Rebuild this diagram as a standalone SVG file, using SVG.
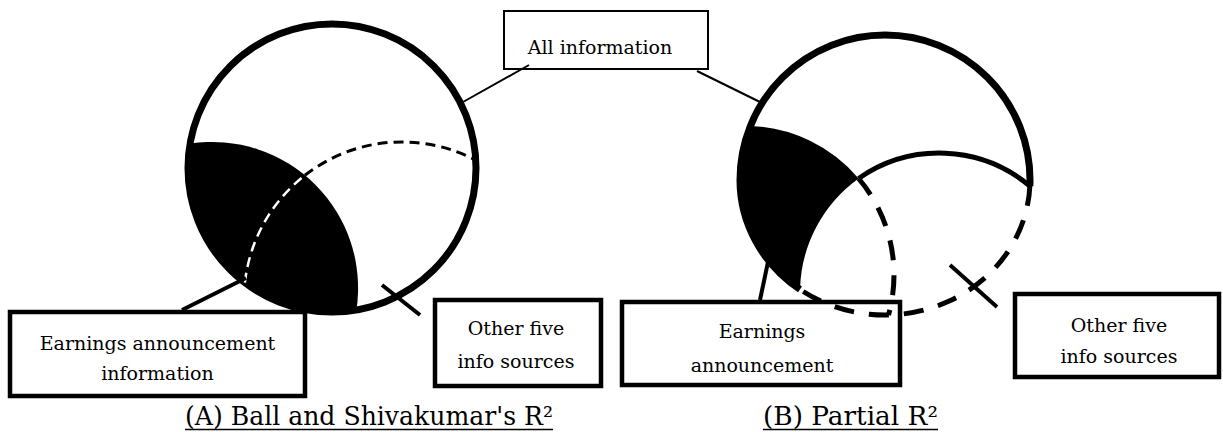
<svg xmlns="http://www.w3.org/2000/svg" width="1223" height="432" viewBox="0 0 1223 432">
<style>
  .lbl{font-family:"DejaVu Serif","Liberation Serif",serif;font-size:19px;fill:#000;text-anchor:middle}
  .title{font-family:"DejaVu Serif","Liberation Serif",serif;font-size:25.5px;fill:#000}
  .box{fill:#fff;stroke:#000;stroke-width:4.5}
  .thinbox{fill:#fff;stroke:#000;stroke-width:2}
  .lead{stroke:#000;stroke-width:2;fill:none}
  .leadThick{stroke:#000;stroke-width:4;fill:none}
  .ring{fill:none;stroke:#000;stroke-width:7}
  .fillblk{fill:#000;stroke:none}
  .dashA{fill:none;stroke:#000;stroke-width:3;stroke-dasharray:10 6}
  .dashAw{fill:none;stroke:#fff;stroke-width:2.5;stroke-dasharray:10 6}
  .dashB{fill:none;stroke:#000;stroke-width:5;stroke-dasharray:20 15}
  .arcB{fill:none;stroke:#000;stroke-width:5}
  .uline{stroke:#000;stroke-width:1.5}
</style>
<rect x="0" y="0" width="1223" height="432" fill="#fff"/>

<g id="node-all-info">
  <rect class="thinbox" x="504" y="11" width="204" height="58"/>
  <text class="lbl" x="600" y="54">All information</text>
</g>
<g id="node-earnings-A">
  <rect class="box" x="10" y="312" width="295" height="84"/>
  <text class="lbl" x="157.5" y="350">Earnings announcement</text>
  <text class="lbl" x="157.5" y="380">information</text>
</g>
<g id="node-other-A">
  <rect class="box" x="435" y="300" width="166" height="86"/>
  <text class="lbl" x="516" y="335">Other five</text>
  <text class="lbl" x="516" y="368">info sources</text>
</g>
<g id="node-earnings-B">
  <rect class="box" x="622" y="302" width="278" height="83"/>
  <text class="lbl" x="762" y="338">Earnings</text>
  <text class="lbl" x="762" y="372">announcement</text>
</g>
<g id="node-other-B">
  <rect class="box" x="1015" y="294" width="204" height="83"/>
  <text class="lbl" x="1119" y="332">Other five</text>
  <text class="lbl" x="1119" y="363">info sources</text>
</g>

<g id="venn-A">
  <path class="fillblk" d="M190 143.6 A146 146 0 0 1 356.4 310 A144 144 0 0 1 190 143.6 Z"/>
  <circle class="ring" cx="332" cy="168" r="144"/>
  <path class="dashA" d="M304.9 175.3 A158 158 0 0 1 475.9 160.3"/>
  <path class="dashAw" d="M244.9 282.7 A158 158 0 0 1 304.9 175.3"/>
  <line class="leadThick" x1="382" y1="285" x2="420" y2="315"/>
</g>

<g id="venn-B">
  <path class="fillblk" d="M750.4 126 A149 149 0 0 1 858.6 178.5 A141 141 0 0 0 800 289.4 A145 135 0 0 1 740 180 A145 145 0 0 1 750.4 126 Z"/>
  <path class="ring" d="M800 289.4 A145 135 0 0 1 740 180 A145 145 0 0 1 885 35 A145 145 0 0 1 1030 180 A145 135 0 0 1 1029.86 186"/>
  <path class="arcB" d="M858.6 178.5 A141 141 0 0 1 1029.86 186"/>
  <path class="dashB" d="M1029.86 186 A145 135 0 0 1 800 289.4"/>
  <path class="dashB" d="M858.6 178.5 A149 149 0 0 1 888.5 315"/>
  <line class="leadThick" x1="950" y1="265" x2="997" y2="307"/>
</g>

<g id="connectors">
  <line class="lead" x1="529" y1="65" x2="463" y2="102"/>
  <line class="lead" x1="697" y1="71" x2="762" y2="103"/>
  <line class="leadThick" x1="182" y1="310" x2="246" y2="278"/>
  <line class="leadThick" x1="760" y1="300" x2="768" y2="262"/>
</g>

<g id="titles">
  <text class="title" x="185" y="425" textLength="368" lengthAdjust="spacingAndGlyphs">(A) Ball and Shivakumar's R²</text>
  <line class="uline" x1="185" y1="429.5" x2="553" y2="429.5"/>
  <text class="title" x="763" y="425" textLength="175" lengthAdjust="spacingAndGlyphs">(B) Partial R²</text>
  <line class="uline" x1="763" y1="429.5" x2="938" y2="429.5"/>
</g>
</svg>
